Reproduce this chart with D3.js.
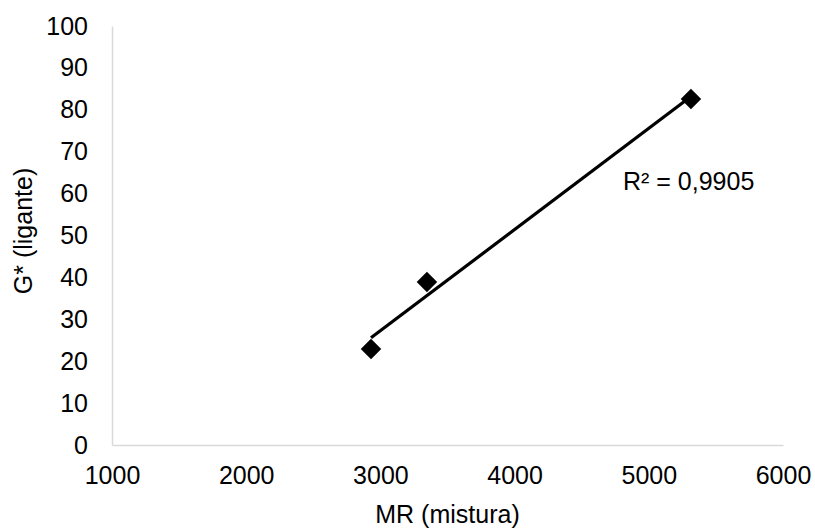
<!DOCTYPE html>
<html>
<head>
<meta charset="utf-8">
<script src="https://cdn.jsdelivr.net/npm/d3@7"></script>
<style>
  body { margin: 0; background: #fff; }
  text { font-family: "Liberation Sans", Arial, sans-serif; fill: #000; }
</style>
</head>
<body>
<div id="chart"></div>
<script>
// data
var mrValues = [2930, 3347, 5314],
    gValues = [22.9, 38.9, 82.6],
    xTicks = [1000, 2000, 3000, 4000, 5000, 6000],
    yTicks = [0, 10, 20, 30, 40, 50, 60, 70, 80, 90, 100],
    r2Label = "R² = 0,9905";

var width = 815,
    height = 528,
    margin = {top: 26, right: 32, bottom: 83, left: 112};

var svg = d3.select("#chart").append("svg")
  .attr("width", width)
  .attr("height", height);

var x = d3.scaleLinear()
  .domain([1000, 6000])
  .range([margin.left, width - margin.right]);

var y = d3.scaleLinear()
  .domain([0, 100])
  .range([height - margin.bottom, margin.top]);

// axes: light grey lines, no tick marks
var xAxis = svg.append("g")
  .attr("transform", "translate(0," + y(0) + ")")
  .call(d3.axisBottom(x).tickValues(xTicks).tickSize(0).tickPadding(21).tickFormat(d3.format("d")));

var yAxis = svg.append("g")
  .attr("transform", "translate(" + x(1000) + ",0)")
  .call(d3.axisLeft(y).tickValues(yTicks).tickSize(0).tickPadding(24));

[xAxis, yAxis].forEach(function(a) {
  a.select(".domain").attr("stroke", "#d9d9d9").attr("stroke-width", 1.5);
  a.selectAll("text")
    .style("font-size", "25px")
    .style("font-family", "'Liberation Sans', Arial, sans-serif")
    .attr("fill", "#000");
});

// linear trendline (least squares)
var pts = mrValues.map(function(m, i) { return {x: m, y: gValues[i]}; });
var mx = d3.mean(pts, d => d.x),
    my = d3.mean(pts, d => d.y);
var sxy = d3.sum(pts, d => (d.x - mx) * (d.y - my)),
    sxx = d3.sum(pts, d => (d.x - mx) * (d.x - mx));
var slope = sxy / sxx,
    intercept = my - slope * mx;
var ext = d3.extent(mrValues);

svg.append("line")
  .attr("x1", x(ext[0]))
  .attr("y1", y(slope * ext[0] + intercept))
  .attr("x2", x(ext[1]))
  .attr("y2", y(slope * ext[1] + intercept))
  .attr("stroke", "#000")
  .attr("stroke-width", 3.2);

// diamond markers
var diamond = d3.symbol().type(d3.symbolSquare).size(210);
svg.selectAll(".pt")
  .data(pts)
  .enter()
  .append("path")
  .attr("class", "pt")
  .attr("d", diamond)
  .attr("transform", d => "translate(" + x(d.x) + "," + y(d.y) + ") rotate(45)")
  .attr("fill", "#000");

// R² label
svg.append("text")
  .attr("x", 623)
  .attr("y", 190)
  .style("font-size", "25px")
  .text(r2Label);

// axis titles
svg.append("text")
  .attr("x", (x.range()[0] + x.range()[1]) / 2)
  .attr("y", 523)
  .attr("text-anchor", "middle")
  .style("font-size", "25px")
  .text("MR (mistura)");

svg.append("text")
  .attr("transform", "translate(32," + 231 + ") rotate(-90)")
  .attr("text-anchor", "middle")
  .style("font-size", "25px")
  .text("G* (ligante)");
</script>
</body>
</html>
